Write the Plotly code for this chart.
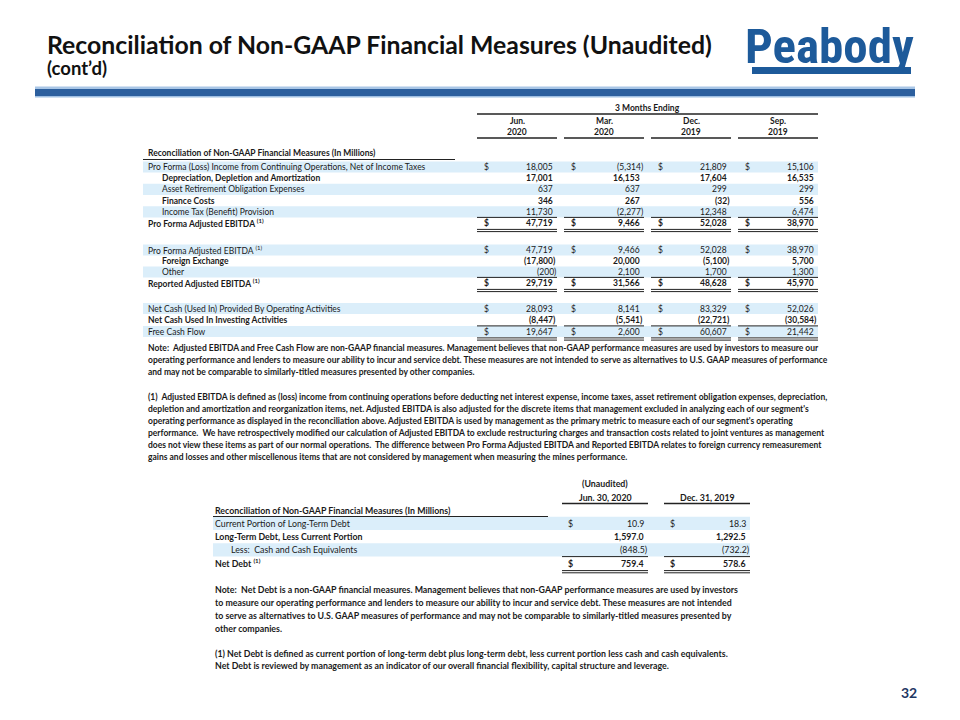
import plotly.graph_objects as go

# ---------------- data ----------------
period_month = ["Jun.", "Mar.", "Dec.", "Sep."]
period_year = ["2020", "2020", "2019", "2019"]

pro_forma_income = [18005, -5314, 21809, 15106]
dda = [17001, 16153, 17604, 16535]
aro_expenses = [637, 637, 299, 299]
finance_costs = [346, 267, -32, 556]
income_tax = [11730, -2277, 12348, 6474]
pro_forma_ebitda = [47719, 9466, 52028, 38970]
foreign_exchange = [-17800, 20000, -5100, 5700]
other_items = [-200, 2100, 1700, 1300]
reported_ebitda = [29719, 31566, 48628, 45970]
operating_cash = [28093, 8141, 83329, 52026]
investing_cash = [-8447, -5541, -22721, -30584]
free_cash_flow = [19647, 2600, 60607, 21442]

debt_dates = ["Jun. 30, 2020", "Dec. 31, 2019"]
current_ltd = [10.9, 18.3]
long_term_debt = [1597.0, 1292.5]
cash_equiv = [-848.5, -732.2]
net_debt = [759.4, 578.6]

notes1 = [
    "Note:  Adjusted EBITDA and Free Cash Flow are non-GAAP financial measures. Management believes that non-GAAP performance measures are used by investors to measure our",
    "operating performance and lenders to measure our ability to incur and service debt. These measures are not intended to serve as alternatives to U.S. GAAP measures of performance",
    "and may not be comparable to similarly-titled measures presented by other companies.",
]
notes1b = [
    "(1)  Adjusted EBITDA is defined as (loss) income from continuing operations before deducting net interest expense, income taxes, asset retirement obligation expenses, depreciation,",
    "depletion and amortization and reorganization items, net. Adjusted EBITDA is also adjusted for the discrete items that management excluded in analyzing each of our segment's",
    "operating performance as displayed in the reconciliation above. Adjusted EBITDA is used by management as the primary metric to measure each of our segment's operating",
    "performance.  We have retrospectively modified our calculation of Adjusted EBITDA to exclude restructuring charges and transaction costs related to joint ventures as management",
    "does not view these items as part of our normal operations.  The difference between Pro Forma Adjusted EBITDA and Reported EBITDA relates to foreign currency remeasurement",
    "gains and losses and other miscellenous items that are not considered by management when measuring the mines performance.",
]
notes2 = [
    "Note:  Net Debt is a non-GAAP financial measures. Management believes that non-GAAP performance measures are used by investors",
    "to measure our operating performance and lenders to measure our ability to incur and service debt. These measures are not intended",
    "to serve as alternatives to U.S. GAAP measures of performance and may not be comparable to similarly-titled measures presented by",
    "other companies.",
]
notes2b = [
    "(1) Net Debt is defined as current portion of long-term debt plus long-term debt, less current portion less cash and cash equivalents.",
    "Net Debt is reviewed by management as an indicator of our overall financial flexibility, capital structure and leverage.",
]

# ---------------- style ----------------
FONT = "Lato, 'Open Sans', sans-serif"
TXT = "#1a1a1a"
SHADE = "#dbeefa"
BLUE = "#1d5a9a"
FS = 8.5
FS2 = 8.8
OFF = 8  # page body margin: axis coordinates are page pixels

fig = go.Figure()
fig.add_trace(go.Scatter(x=[OFF, 952], y=[OFF, 712], mode="markers",
                         marker=dict(opacity=0), hoverinfo="skip"))
fig.update_layout(
    width=960 - 2 * OFF, height=720 - 2 * OFF, margin=dict(l=0, r=0, t=0, b=0),
    paper_bgcolor="white", plot_bgcolor="white", showlegend=False,
    xaxis=dict(range=[OFF, 960 - OFF], visible=False, fixedrange=True),
    yaxis=dict(range=[720 - OFF, OFF], visible=False, fixedrange=True),
    font=dict(family=FONT, color=TXT, size=FS),
)

ann = []
shp = []


def text(x, y, s, anchor="left", size=FS, bold=False, color=TXT, family=FONT):
    if bold:
        s = "<b>" + s + "</b>"
    ann.append(dict(x=x, y=y, xref="x", yref="y", text=s, showarrow=False,
                    xanchor=anchor, yanchor="middle", align=anchor if anchor != "center" else "center",
                    font=dict(size=size, color=color, family=family), borderpad=0))


def hline(x0, x1, y, w=1.0, color="#222"):
    shp.append(dict(type="line", xref="x", yref="y", x0=x0, x1=x1, y0=y, y1=y,
                    line=dict(color=color, width=w)))


def rect(x0, x1, y0, y1, color):
    shp.append(dict(type="rect", xref="x", yref="y", x0=x0, x1=x1, y0=y0, y1=y1,
                    fillcolor=color, line=dict(width=0), layer="below"))


def fmt(v, dec=0):
    s = f"{abs(v):,.{dec}f}"
    return f"({s})" if v < 0 else s


# ---------------- header ----------------
text(46, 44, "Reconciliation of Non-GAAP Financial Measures (Unaudited)", size=24.8, bold=True, color="#111")
text(46, 68, "(cont’d)", size=18.5, bold=True, color="#111")

# logo
text(829, 46, "Peabody", anchor="center", size=49, bold=True, color=BLUE,
     family="Liberation Sans Narrow, Roboto Condensed, Roboto, sans-serif")
rect(752, 911, 67, 74, BLUE)

# blue bar
rect(35, 915, 86.5, 89, "#a9c6e6")
rect(35, 915, 89, 96, "#2c5f9e")
rect(35, 915, 96, 97.5, "#9fbfe2")

# ---------------- table 1 ----------------
col_l = [477, 564, 651, 738]
col_r = [557, 644, 731, 818]
PAREN = 3.0

text(647, 108, "3 Months Ending", anchor="center", bold=True)
hline(477, 818, 114, 1.3)
for i in range(4):
    c = (col_l[i] + col_r[i]) / 2
    text(c, 120.5, period_month[i], anchor="center", bold=True)
    text(c, 131.5, period_year[i], anchor="center", bold=True)
    hline(col_l[i], col_r[i], 138, 1.3)

LX = 147
text(LX, 153, "Reconciliation of Non-GAAP Financial Measures (In Millions)", bold=True)
hline(143, 455, 159.5, 1.0)

SUP = " <sup>(1)</sup>"
rows1 = [
    # label, values, indent, shaded, dollar, total, y
    ("Pro Forma (Loss) Income from Continuing Operations, Net of Income Taxes", pro_forma_income, False, True, True, False, 167.0),
    ("Depreciation, Depletion and Amortization", dda, True, False, False, False, 178.2),
    ("Asset Retirement Obligation Expenses", aro_expenses, True, True, False, False, 189.4),
    ("Finance Costs", finance_costs, True, False, False, False, 200.6),
    ("Income Tax (Benefit) Provision", income_tax, True, True, False, False, 211.8),
    ("Pro Forma Adjusted EBITDA" + SUP, pro_forma_ebitda, False, False, True, True, 223.0),
    ("Pro Forma Adjusted EBITDA" + SUP, pro_forma_ebitda, False, True, True, False, 250.0),
    ("Foreign Exchange", foreign_exchange, True, False, False, False, 261.0),
    ("Other", other_items, True, True, False, False, 272.0),
    ("Reported Adjusted EBITDA" + SUP, reported_ebitda, False, False, True, True, 283.0),
    ("Net Cash (Used In) Provided By Operating Activities", operating_cash, False, True, True, False, 308.5),
    ("Net Cash Used In Investing Activities", investing_cash, False, False, False, False, 320.0),
    ("Free Cash Flow", free_cash_flow, False, True, True, True, 331.5),
]
H1 = 11.2
for label, vals, indent, shaded, dollar, total, y in rows1:
    if shaded:
        rect(143, 818, y - H1 / 2, y + H1 / 2, SHADE)
    bold = not shaded
    text(LX + (14 if indent else 0), y, label, bold=bold)
    for i, v in enumerate(vals):
        if dollar:
            text(col_l[i] + 6, y, "$", bold=bold)
        xr = col_r[i] - (0 if v < 0 else PAREN)
        text(xr, y, fmt(v), anchor="right", bold=bold)
        if total:
            hline(col_l[i], col_r[i], y - H1 / 2, 1.0)
            hline(col_l[i], col_r[i], y + H1 / 2 + 0.8, 1.0)
            hline(col_l[i], col_r[i], y + H1 / 2 + 3.0, 1.0)

# notes 1
for k, s in enumerate(notes1):
    text(LX, 348 + k * 11.8, s, bold=True)
for k, s in enumerate(notes1b):
    text(LX, 397 + k * 11.9, s, bold=True)

# ---------------- table 2 ----------------
c2_l = [562, 664]
c2_r = [648, 750]
text(605, 483, "(Unaudited)", anchor="center", bold=True, size=FS2)
for i in range(2):
    text((c2_l[i] + c2_r[i]) / 2, 497, debt_dates[i], anchor="center", bold=True, size=FS2)
    hline(c2_l[i], c2_r[i], 503.5, 1.3)
LX2 = 214
text(LX2, 510, "Reconciliation of Non-GAAP Financial Measures (In Millions)", bold=True, size=FS2)
hline(213, 548, 516.5, 1.0)

H2 = 13.2
rows2 = [
    ("Current Portion of Long-Term Debt", current_ltd, False, True, True, False, 523.3),
    ("Long-Term Debt, Less Current Portion", long_term_debt, False, False, False, False, 536.6),
    ("Less:  Cash and Cash Equivalents", cash_equiv, True, True, False, False, 549.9),
    ("Net Debt" + SUP, net_debt, False, False, True, True, 563.2),
]
for label, vals, indent, shaded, dollar, total, y in rows2:
    if shaded:
        rect(213, 750, y - H2 / 2, y + H2 / 2, SHADE)
    bold = not shaded
    text(LX2 + (16 if indent else 0), y, label, bold=bold, size=FS2)
    for i, v in enumerate(vals):
        if dollar:
            text(c2_l[i] + 5, y, "$", bold=bold, size=FS2)
        xr = c2_r[i] - (0 if v < 0 else PAREN)
        text(xr, y, fmt(v, 1), anchor="right", bold=bold, size=FS2)
        if total:
            hline(c2_l[i], c2_r[i], y - H2 / 2, 1.0)
            hline(c2_l[i], c2_r[i], y + H2 / 2 + 0.8, 1.0)
            hline(c2_l[i], c2_r[i], y + H2 / 2 + 3.0, 1.0)

for k, s in enumerate(notes2):
    text(LX2, 589 + k * 13.0, s, bold=True, size=FS2)
for k, s in enumerate(notes2b):
    text(LX2, 653 + k * 12.5, s, bold=True, size=FS2)

# page number
text(918, 692, "32", anchor="right", size=14, bold=True, color="#1f3864")

fig.update_layout(annotations=ann, shapes=shp)
fig.write_html("out.html")
